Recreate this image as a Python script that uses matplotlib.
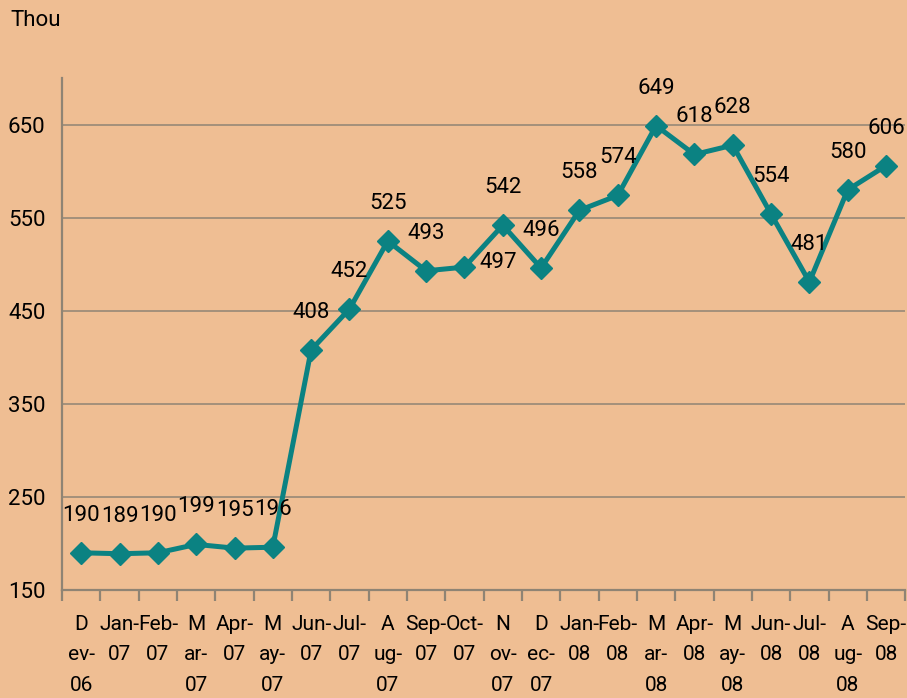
import matplotlib
matplotlib.use("Agg")
import matplotlib.pyplot as plt
import numpy as np

months = ["D\nev-\n06", "Jan-\n07", "Feb-\n07", "M\nar-\n07", "Apr-\n07", "M\nay-\n07",
          "Jun-\n07", "Jul-\n07", "A\nug-\n07", "Sep-\n07", "Oct-\n07", "N\nov-\n07",
          "D\nec-\n07", "Jan-\n08", "Feb-\n08", "M\nar-\n08", "Apr-\n08", "M\nay-\n08",
          "Jun-\n08", "Jul-\n08", "A\nug-\n08", "Sep-\n08"]
values = [190, 189, 190, 199, 195, 196, 408, 452, 525, 493, 497, 542,
          496, 558, 574, 649, 618, 628, 554, 481, 580, 606]
yticks = [150, 250, 350, 450, 550, 650]

plt.rcParams['font.family'] = ['Roboto', 'DejaVu Sans']
bg = "#EFBE93"
teal = "#0B8282"
grid = "#8F8474"
fs = 16

fig = plt.figure(figsize=(9.07, 6.98), dpi=100, facecolor=bg)
ax = fig.add_axes([0.0684, 0.1547, 0.9296, 0.7333])
ax.set_facecolor(bg)

x = np.arange(len(values))
ax.plot(x, values, color=teal, lw=3.6, marker='D', markersize=11, zorder=3, clip_on=False)

for i, v in enumerate(values):
    if i == 10:
        ax.annotate(str(v), (i, v), xytext=(24, 3), textcoords='offset points',
                    ha='center', va='center', fontsize=fs, color='black')
    else:
        ax.annotate(str(v), (i, v), xytext=(0, 27), textcoords='offset points',
                    ha='center', va='center', fontsize=fs, color='black')

ax.set_xlim(-0.5, len(values) - 0.5)
ax.set_ylim(150, 700)
ax.set_yticks(yticks)
ax.set_yticklabels([str(t) for t in yticks], fontsize=fs)
ax.yaxis.grid(True, color=grid, lw=1.1)
ax.set_axisbelow(True)
ax.tick_params(axis='y', length=0, pad=12)

ax.set_xticks(x)
ax.set_xticklabels(months, fontsize=15, linespacing=1.75)
ax.set_xticks(np.arange(-0.5, len(values), 1.0), minor=True)
ax.tick_params(axis='x', which='major', length=0, pad=18)
ax.tick_params(axis='x', which='minor', length=8, width=1.6, color=grid, direction='out')

for s in ['top', 'right']:
    ax.spines[s].set_visible(False)
for s in ['left', 'bottom']:
    ax.spines[s].set_color(grid)
    ax.spines[s].set_linewidth(1.6)

fig.text(0.011, 0.985, "Thou", fontsize=fs, ha='left', va='top')

fig.savefig("out.png", dpi=100, facecolor=bg)
